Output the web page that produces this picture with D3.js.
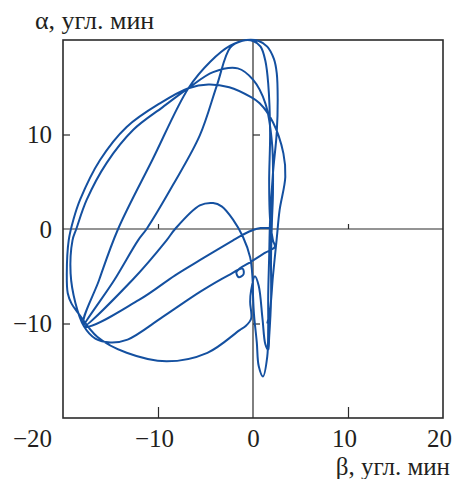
<!DOCTYPE html>
<html lang="ru">
<head>
    <meta charset="UTF-8">
    <title>alpha-beta</title>
    <style>
        body { margin: 0; background: #fff; }
        text { font-family: "Liberation Serif", "DejaVu Serif", serif; fill: #231f20; }
        .traj { fill: none; stroke: #1450a0; stroke-width: 2; stroke-linejoin: round; }
    </style>
</head>
<body>
    <script src="https://d3js.org/d3.v7.min.js"></script>
    <script>
        // trajectory beta (x) and alpha (y), angular minutes
        const betaValues = [
            1.7, 0.8, 0, -1.05, -2.1, -5.6, -8.2, -12, -17.8,
            -16.2, -14.2, -10.6, -6.8, -4.5, -2.4, -0.7, 0.6, 1.5, 2.2, 2.5, 2.6, 2.5, 2.1, 1.8, 1.7, 1.6, 1.6, 1.5, 1.05, 0.6, 0.4, 0.1, 0.0, -0.05, -0.3, -1.05, -2.1, -3.3, -4.2, -5.6, -8.2, -9.1, -12.7, -17.8,
            -14.6, -12.1, -11.2, -8.4, -5.6, -3.8, -2.4, -1.2, 0, 0.8, 1.3, 1.6, 1.8, 1.7, 1.8, 2.1, 2.3, 1.3, -0.6, -1.3, -1.75, -1.5, -1.0, -1.1, -2.6, -5.5, -9.5, -13.2, -15.0, -16.6, -17.8,
            -18.7, -19.2, -19.0, -18.6, -17.5, -15.4, -12.6, -9.5, -6.8, -4.2, -1.6, 0, 1.3, 2.0, 2.1, 2.0, 1.9, 1.9, 1.7, 1.6, 1.3, 1.0, 0.6, 0.2, -0.2, -0.3, -0.2, -0.8, -1.4, -4.8, -9.1, -13.3, -16.4, -18.4, -19.1, -19.5, -19.6, -19.4, -18.9, -18.2, -16.1, -13.3, -9.8, -6.8, -4.7, -2.5, -0.3, 0.7, 2.1, 3.2, 3.4, 2.8, 2.5, 2.1, 1.8, 1.5
        ];
        const alphaValues = [
            0.1, 0.1, -0.1, -0.6, -1.2, -3.3, -4.9, -7.5, -10.3,
            -5.4, 0, 7.3, 14.9, 17.7, 19.4, 20.0, 19.9, 19.3, 18.0, 16.5, 13.7, 10.2, 5.9, 1.0, -3, -7, -10.5, -13.5, -15.6, -14.5, -12, -9, -7, -5.2, -3.0, -0.85, 1.0, 2.4, 2.75, 2.5, 0, -1.2, -5.4, -10.3,
            -5.4, -1.2, 0, 4.7, 9.9, 15.2, 19.2, 19.9, 19.9, 19.3, 17.8, 15.4, 10.2, 5, 1, -1.2, -1.9, -2.5, -3.7, -4.1, -4.6, -5.1, -4.8, -4.2, -4.9, -6.6, -9.3, -11.7, -12.0, -11.6, -10.3,
            -7.8, -4.7, -1.2, 0, 3.1, 7.0, 10.5, 12.9, 14.9, 16.6, 17.0, 15.8, 13.3, 9.1, 3.8, 1.0, -3, -7.5, -11.5, -12.8, -12.2, -9.5, -6, -5, -6.5, -7.7, -9.5, -10.3, -10.7, -13.1, -14.0, -13.1, -11.4, -8.9, -7.9, -6.8, -4.7, -1.2, 1.0, 3.1, 7.3, 10.8, 13.3, 14.9, 15.3, 15.0, 14.0, 13.3, 11.3, 8.0, 5.5, 2.0, -1, -5, -8.5, -10
        ];

        const xTicks = [-20, -10, 0, 10, 20];
        const yTicks = [-10, 0, 10];
        const crossTicks = [-10, 10];

        const W = 453, H = 479;
        const box = { left: 63, right: 443, top: 40, bottom: 418 };

        const svg = d3.select("body").append("svg")
            .attr("width", W)
            .attr("height", H);

        const x = d3.scaleLinear().domain([-20, 20]).range([box.left, box.right]);
        const y = d3.scaleLinear().domain([-20, 20]).range([box.bottom, box.top]);

        // frame
        svg.append("rect")
            .attr("x", box.left).attr("y", box.top)
            .attr("width", box.right - box.left).attr("height", box.bottom - box.top)
            .attr("fill", "none").attr("stroke", "#2b2b2b").attr("stroke-width", 1.6);

        // cross lines through zero
        svg.append("line")
            .attr("x1", x(0)).attr("x2", x(0)).attr("y1", box.top).attr("y2", box.bottom)
            .attr("stroke", "#2b2b2b").attr("stroke-width", 1.2);
        svg.append("line")
            .attr("x1", box.left).attr("x2", box.right).attr("y1", y(0)).attr("y2", y(0))
            .attr("stroke", "#2b2b2b").attr("stroke-width", 1.2);

        // left axis, ticks pointing inward
        const yAxis = svg.append("g")
            .attr("transform", `translate(${box.left},0)`)
            .call(d3.axisLeft(y).tickValues(yTicks).tickSize(-7).tickPadding(11)
                .tickFormat(d => d < 0 ? "\u2212" + Math.abs(d) : d));

        // bottom axis
        const xAxis = svg.append("g")
            .attr("transform", `translate(0,${box.bottom})`)
            .call(d3.axisBottom(x).tickValues(xTicks).tickSize(-11).tickPadding(11)
                .tickFormat(d => d < 0 ? "\u2212" + Math.abs(d) : d));

        [yAxis, xAxis].forEach(g => {
            g.select(".domain").remove();
            g.selectAll(".tick line").attr("stroke", "#2b2b2b").attr("stroke-width", 1.2);
            g.selectAll(".tick text").attr("font-size", 25).attr("fill", "#231f20")
                .attr("font-family", "Liberation Serif");
        });
        yAxis.selectAll(".tick").filter(d => d === 0).select("line").remove();
        xAxis.selectAll(".tick").filter(d => d === 0).select("line").remove();
        xAxis.selectAll(".tick").filter(d => Math.abs(d) === 20).select("line").remove();
        // the corner label sits left of the frame, the others a bit left of their ticks
        xAxis.selectAll(".tick text").attr("dx", d => d === -20 ? -31 : (d === 0 ? 0 : -4));

        // small ticks on the zero cross
        const crossX = svg.append("g")
            .attr("transform", `translate(0,${y(0)})`)
            .call(d3.axisBottom(x).tickValues(crossTicks).tickSize(-5).tickFormat(""));
        const crossY = svg.append("g")
            .attr("transform", `translate(${x(0)},0)`)
            .call(d3.axisLeft(y).tickValues(crossTicks).tickSize(-7).tickFormat(""));
        [crossX, crossY].forEach(g => {
            g.select(".domain").remove();
            g.selectAll(".tick line").attr("stroke", "#2b2b2b").attr("stroke-width", 1.2);
        });

        // trajectory
        const pts = betaValues.map((b, i) => [b, alphaValues[i]]);
        const line = d3.line()
            .x(d => x(d[0]))
            .y(d => y(d[1]))
            .curve(d3.curveCatmullRom.alpha(0.5));
        svg.append("path")
            .datum(pts)
            .attr("class", "traj")
            .attr("d", line);

        // axis titles
        svg.append("text")
            .attr("x", 35).attr("y", 29)
            .attr("font-size", 26)
            .text("\u03b1, угл. мин");
        svg.append("text")
            .attr("x", 450).attr("y", 475)
            .attr("text-anchor", "end")
            .attr("font-size", 25)
            .text("\u03b2, угл. мин");
    </script>
</body>
</html>
